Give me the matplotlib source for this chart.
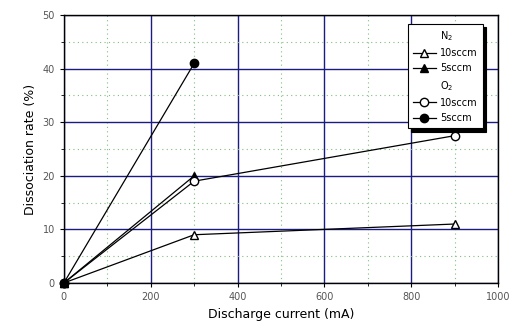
import matplotlib.pyplot as plt
from matplotlib.lines import Line2D
from matplotlib.ticker import MultipleLocator

# data
current = [0, 300, 900]
n2_10 = [0, 9, 11]
n2_5_x = [0, 300]
n2_5 = [0, 20]
o2_10 = [0, 19, 27.5]
o2_5_x = [0, 300]
o2_5 = [0, 41]

fig = plt.figure(figsize=(5.11, 3.29), dpi=100)
ax = fig.add_axes([0.125, 0.14, 0.85, 0.814])

ax.set_xlim(0, 1000)
ax.set_ylim(0, 50)
ax.xaxis.set_major_locator(MultipleLocator(200))
ax.xaxis.set_minor_locator(MultipleLocator(100))
ax.yaxis.set_major_locator(MultipleLocator(10))
ax.yaxis.set_minor_locator(MultipleLocator(5))
ax.grid(which='major', color='#1c1c80', lw=1.0)
ax.grid(which='minor', color='#7fbf7f', lw=0.8, ls=(0, (1, 3)))
ax.set_axisbelow(True)

ms = 6
ax.plot(current, n2_10, '-', color='black', lw=0.9, marker='^', ms=ms, mfc='white', mec='black', clip_on=False, zorder=3)
ax.plot(n2_5_x, n2_5, '-', color='black', lw=0.9, marker='^', ms=ms, mfc='black', mec='black', clip_on=False, zorder=3)
ax.plot(current, o2_10, '-', color='black', lw=0.9, marker='o', ms=ms, mfc='white', mec='black', clip_on=False, zorder=3)
ax.plot(o2_5_x, o2_5, '-', color='black', lw=0.9, marker='o', ms=ms, mfc='black', mec='black', clip_on=False, zorder=3)

for s in ax.spines.values():
    s.set_linewidth(1.0)
ax.tick_params(which='both', direction='out', labelsize=7, labelcolor='#555555', length=3)
ax.tick_params(which='minor', length=2)
ax.set_xlabel('Discharge current (mA)', fontsize=9)
ax.set_ylabel('Dissociation rate (%)', fontsize=9)

blank = Line2D([], [], color='none')
handles = [blank,
           Line2D([], [], color='black', lw=0.9, marker='^', ms=ms, mfc='white'),
           Line2D([], [], color='black', lw=0.9, marker='^', ms=ms, mfc='black'),
           blank,
           Line2D([], [], color='black', lw=0.9, marker='o', ms=ms, mfc='white'),
           Line2D([], [], color='black', lw=0.9, marker='o', ms=ms, mfc='black')]
labels = ['N$_2$', '10sccm', '5sccm', 'O$_2$', '10sccm', '5sccm']
leg = ax.legend(handles, labels, loc='upper right', bbox_to_anchor=(0.975, 0.985),
                fontsize=7, frameon=True, fancybox=False,
                shadow={'color': 'black', 'alpha': 1, 'ox': 2.5, 'oy': -2.5},
                handlelength=2.4, handletextpad=0.4, labelspacing=0.55, borderpad=0.5)
leg.get_frame().set_edgecolor('black')
leg.get_frame().set_linewidth(0.8)
leg.get_frame().set_alpha(1)

fig.savefig('out.png', dpi=100)
